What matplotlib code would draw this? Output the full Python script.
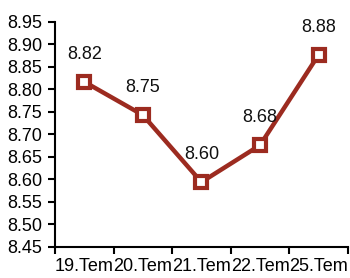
import matplotlib.pyplot as plt
import numpy as np

plt.rcParams['font.family'] = ['Liberation Sans', 'DejaVu Sans']
plt.rcParams['font.size'] = 13

# data
categories = ['19.Tem', '20.Tem', '21.Tem', '22.Tem', '25.Tem']
values = [8.817, 8.743, 8.594, 8.676, 8.877]
value_labels = ['8.82', '8.75', '8.60', '8.68', '8.88']
y_ticks = [8.45, 8.50, 8.55, 8.60, 8.65, 8.70, 8.75, 8.80, 8.85, 8.90, 8.95]

LINE_COLOR = '#9c2b20'

fig = plt.figure(figsize=(3.5, 2.78), dpi=100)
ax = fig.add_axes([0.157, 0.112, 0.837, 0.809])

x = np.arange(len(categories))
ax.plot(x, values, color=LINE_COLOR, linewidth=3.2, marker='s', markersize=9,
        markerfacecolor='white', markeredgecolor=LINE_COLOR, markeredgewidth=3,
        zorder=3)

for xi, v, lab in zip(x, values, value_labels):
    ax.annotate(lab, (xi, v), xytext=(0, 20), textcoords='offset points',
                ha='center', va='center', fontsize=13, color='#111111')

ax.set_xlim(-0.5, len(categories) - 0.5)
ax.set_ylim(8.45, 8.95)
ax.set_yticks(y_ticks)
ax.set_yticklabels([f'{t:.2f}' for t in y_ticks])

# boundary ticks between categories, labels at centres
ax.set_xticks(np.arange(-0.5, len(categories)), minor=False)
ax.set_xticklabels([])
ax.set_xticks(x, minor=True)
ax.set_xticklabels(categories, minor=True)
ax.tick_params(axis='x', which='minor', length=0, pad=8)
ax.tick_params(axis='x', which='major', length=5, width=1.5, direction='out')
ax.tick_params(axis='y', length=5, width=1.5, direction='out', pad=4)

for s in ['top', 'right']:
    ax.spines[s].set_visible(False)
for s in ['left', 'bottom']:
    ax.spines[s].set_linewidth(1.5)

fig.savefig('out.png', dpi=100)
